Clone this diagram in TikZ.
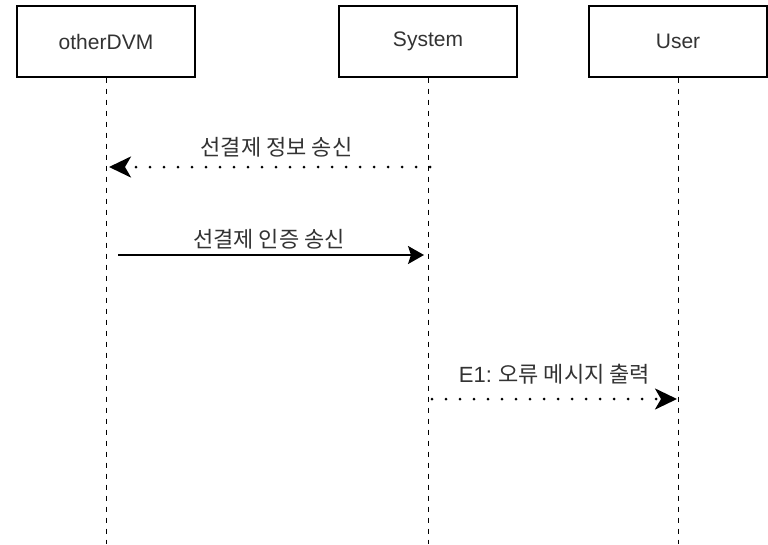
\documentclass[tikz,border=0pt]{standalone}
\usepackage{fontspec}
\setmainfont{Liberation Sans}
\newfontfamily\kr{Noto Sans CJK KR}
\usetikzlibrary{arrows.meta}

\tikzset{
	lifebox/.style={draw=black, line width=1.3pt, minimum width=178pt, minimum height=71pt, text=black!80, font=\fontsize{21}{24}\selectfont},
	lifeline/.style={draw=black, line width=1pt, dash pattern=on 5pt off 6pt},
	msgdot/.style={line width=3pt, dash pattern=on 0pt off 14pt, line cap=round},
	msglabel/.style={text=black!80, font=\fontsize{22}{25}\selectfont\kr, inner sep=0pt}
}

\begin{document}
\begin{tikzpicture}[x=1pt, y=1pt]
		\useasboundingbox[fill=white] (0,0) rectangle (768,-544);
		% lifelines
		\foreach \n/\x/\t in {dvm/106/otherDVM, sys/428/System, usr/678/User}{
			\node[lifebox] (\n) at (\x,-41.5) {\t};
			\coordinate (\n-end) at (\x,-544);
			\draw[lifeline] (\n.south) -- (\n-end);
		}
		
		% message end points
		\coordinate (m1a) at (430,-167);
		\coordinate (m1b) at (109,-167);
		\coordinate (m2a) at (118,-255);
		\coordinate (m2b) at (424,-255);
		\coordinate (m3a) at (432,-399);
		\coordinate (m3b) at (677,-399);
		
		\draw[msgdot, -{Stealth[length=22pt, width=21pt, inset=6pt, line cap=butt]}] (m1a) -- node[midway, xshift=7pt, yshift=20pt, msglabel]{선결제 정보 송신} (m1b);
		\draw[line width=2pt, -{Stealth[length=16pt, width=18pt, inset=3pt]}] (m2a) -- node[midway, xshift=-2pt, yshift=16pt, msglabel]{선결제 인증 송신} (m2b);
		\draw[msgdot, -{Stealth[length=22pt, width=21pt, inset=6pt, line cap=butt]}] (m3a) -- node[midway, yshift=25pt, msglabel]{{\fontspec{Liberation Sans}E1:} 오류 메시지 출력} (m3b);
		
		%\draw[dashed] (0,-544) -- (768,-544);
		\end{tikzpicture}
\end{document}
